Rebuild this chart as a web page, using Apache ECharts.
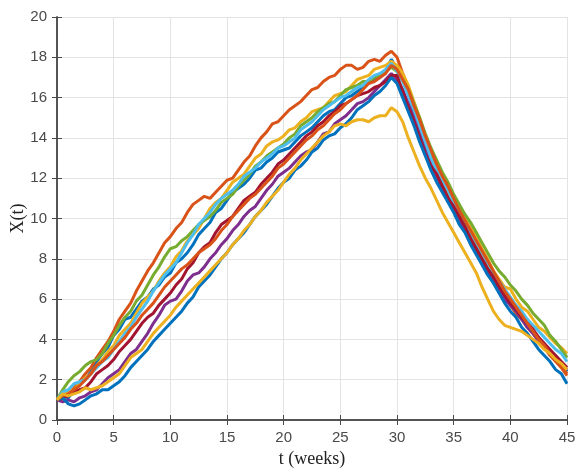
<!DOCTYPE html>
<html>
<head>
<meta charset="utf-8">
<script src="https://cdn.jsdelivr.net/npm/echarts@6/dist/echarts.min.js"></script>
<style>
html,body{margin:0;padding:0;background:#fff;}
#chart{width:576px;height:469px;}
</style>
</head>
<body>
<div id="chart"></div>
<script>
// time step between samples (weeks)
const step = 0.5;

const xTicks = [0, 5, 10, 15, 20, 25, 30, 35, 40, 45];
const yTicks = [0, 2, 4, 6, 8, 10, 12, 14, 16, 18, 20];

// sampled every 0.5 week, t = 0 .. 45
const blue1 = [1.0,1.2, 1.1,1.5, 1.8,2.0, 2.4,2.9, 3.3,3.6, 4.2,4.5, 5.0,5.1, 5.5,5.9, 6.1,6.5, 6.7,7.1, 7.3,7.8, 8.0,8.3, 8.7,9.2, 9.5,9.8, 10.3,10.5, 10.9,11.3, 11.5,11.7, 12.0,12.4, 12.5,12.8, 13.0,13.3, 13.4,13.5, 13.8,14.1, 14.3,14.5, 14.8,15.1, 15.3,15.4, 15.7,16.0, 16.1,16.3, 16.5,16.8, 16.9,17.0, 17.3,17.9, 17.4,16.9, 16.2,15.3, 14.6,13.7, 13.0,12.5, 11.8,11.1, 10.6,10.0, 9.5,9.1, 8.5,7.9, 7.5,7.0, 6.6,6.1, 5.8,5.3, 5.0,4.8, 4.4,4.0, 3.8,3.3, 3.0,2.8, 2.4];
const orange1 = [1.0,1.1, 1.3,1.6, 1.9,2.3, 2.6,3.1, 3.5,3.9, 4.4,5.0, 5.4,5.8, 6.4,6.9, 7.4,7.8, 8.3,8.8, 9.1,9.5, 9.8,10.3, 10.7,10.9, 11.1,11.0, 11.3,11.6, 11.9,12.0, 12.4,12.8, 13.1,13.6, 14.0,14.3, 14.7,14.8, 15.1,15.4, 15.6,15.8, 16.1,16.4, 16.5,16.8, 17.0,17.1, 17.4,17.6, 17.6,17.4, 17.5,17.8, 17.9,17.8, 18.1,18.3, 18.0,17.2, 16.5,15.6, 14.8,13.9, 13.1,12.5, 11.9,11.3, 10.7,10.2, 9.6,9.1, 8.6,8.0, 7.6,7.1, 6.6,6.1, 5.7,5.3, 5.0,4.6, 4.3,3.9, 3.6,3.2, 2.9,2.6, 2.2];
const yellow1 = [1.0,1.3, 1.4,1.5, 1.8,2.1, 2.3,2.7, 3.0,3.4, 3.7,4.2, 4.5,4.8, 5.3,5.8, 6.1,6.4, 6.9,7.3, 7.6,8.1, 8.4,8.9, 9.2,9.5, 10.0,10.5, 10.8,11.0, 11.4,11.8, 12.0,12.2, 12.6,13.0, 13.2,13.6, 13.8,13.9, 14.1,14.4, 14.5,14.8, 15.0,15.3, 15.4,15.5, 15.8,16.1, 16.2,16.3, 16.6,16.9, 17.0,17.1, 17.4,17.5, 17.6,17.8, 17.6,17.2, 16.6,15.8, 15.0,14.1, 13.4,12.8, 12.2,11.6, 11.1,10.6, 10.1,9.7, 9.1,8.5, 8.0,7.4, 7.0,6.6, 6.5,6.0, 5.6,5.4, 5.0,4.6, 4.4,4.1, 3.8,3.6, 3.3];
const purple = [1.0,0.9, 1.0,0.9, 1.1,1.2, 1.4,1.5, 1.8,2.1, 2.3,2.5, 2.9,3.3, 3.5,3.9, 4.3,4.8, 5.2,5.7, 5.9,6.0, 6.4,6.9, 7.2,7.3, 7.6,8.0, 8.3,8.7, 9.0,9.4, 9.7,10.1, 10.4,10.6, 11.0,11.4, 11.7,12.1, 12.3,12.5, 12.8,13.1, 13.3,13.4, 13.8,14.2, 14.3,14.7, 14.9,15.1, 15.4,15.7, 15.8,16.0, 16.3,16.6, 16.9,17.2, 16.9,16.4, 15.7,15.0, 14.2,13.4, 12.7,12.1, 11.5,11.0, 10.4,9.9, 9.4,8.8, 8.4,7.9, 7.4,7.0, 6.5,6.0, 5.7,5.4, 5.0,4.6, 4.3,3.9, 3.6,3.4, 3.0,2.8, 2.5];
const green = [1.0,1.5, 1.9,2.2, 2.4,2.7, 2.9,3.0, 3.3,3.8, 4.2,4.7, 5.1,5.4, 5.9,6.2, 6.7,7.2, 7.6,8.1, 8.5,8.6, 8.9,9.1, 9.4,9.7, 9.9,10.1, 10.4,10.8, 11.0,11.2, 11.6,11.9, 12.2,12.6, 12.8,13.1, 13.3,13.5, 13.7,14.0, 14.2,14.6, 14.8,15.0, 15.3,15.5, 15.7,15.8, 16.1,16.4, 16.5,16.6, 16.8,16.8, 17.0,17.1, 17.3,17.5, 17.3,16.9, 16.4,15.7, 15.0,14.2, 13.5,12.9, 12.3,11.8, 11.2,10.7, 10.2,9.8, 9.3,8.8, 8.3,7.8, 7.4,7.1, 6.7,6.4, 6.0,5.7, 5.3,5.0, 4.7,4.2, 3.9,3.5, 3.1];
const cyan = [1.0,1.4, 1.5,1.8, 1.9,2.0, 2.3,2.6, 2.9,3.1, 3.5,3.9, 4.3,4.6, 5.1,5.5, 5.9,6.4, 6.8,7.2, 7.5,7.8, 8.3,8.8, 9.2,9.7, 10.0,10.3, 10.7,11.0, 11.2,11.4, 11.7,12.1, 12.3,12.5, 12.8,13.0, 13.2,13.5, 13.6,13.8, 14.0,14.4, 14.6,14.8, 15.1,15.4, 15.6,15.8, 16.0,16.1, 16.3,16.5, 16.6,16.9, 17.1,17.2, 17.4,17.7, 17.3,16.8, 16.1,15.4, 14.6,13.8, 13.0,12.4, 11.9,11.4, 10.8,10.3, 9.8,9.3, 8.8,8.3, 7.8,7.3, 6.9,6.5, 6.1,5.7, 5.4,5.0, 4.7,4.4, 4.1,3.8, 3.5,3.3, 2.9];
const red = [1.0,1.1, 1.2,1.4, 1.5,1.6, 1.9,2.3, 2.5,2.7, 3.0,3.4, 3.7,4.0, 4.4,4.8, 5.1,5.3, 5.7,6.0, 6.3,6.7, 7.0,7.5, 7.8,8.3, 8.6,8.8, 9.3,9.7, 9.9,10.1, 10.5,10.9, 11.1,11.3, 11.7,12.0, 12.3,12.7, 12.9,13.2, 13.5,13.8, 14.1,14.3, 14.6,14.8, 15.1,15.3, 15.6,15.7, 15.9,16.1, 16.2,16.3, 16.5,16.6, 16.8,17.1, 17.1,16.3, 15.5,14.8, 14.0,13.2, 12.6,12.2, 11.6,11.0, 10.6,10.1, 9.6,9.0, 8.5,8.0, 7.5,7.1, 6.6,6.2, 5.8,5.5, 5.1,4.8, 4.5,4.1, 3.8,3.5, 3.2,2.9, 2.6];
const blue2 = [1.0,1.1, 0.8,0.7, 0.8,1.0, 1.2,1.3, 1.5,1.5, 1.7,1.9, 2.2,2.6, 2.9,3.2, 3.5,3.9, 4.2,4.5, 4.8,5.1, 5.4,5.8, 6.1,6.6, 6.9,7.2, 7.6,8.0, 8.3,8.7, 9.0,9.3, 9.7,10.1, 10.4,10.7, 11.1,11.5, 11.8,12.0, 12.4,12.6, 12.9,13.3, 13.5,13.9, 14.1,14.2, 14.5,14.7, 15.0,15.4, 15.6,15.8, 16.1,16.3, 16.6,17.0, 16.7,16.0, 15.3,14.6, 13.8,13.1, 12.4,11.8, 11.3,10.8, 10.3,9.7, 9.3,8.7, 8.2,7.7, 7.2,6.8, 6.3,5.8, 5.4,5.1, 4.6,4.3, 3.9,3.5, 3.2,2.9, 2.5,2.3, 1.8];
const orange2 = [1.0,1.2, 1.3,1.5, 1.7,2.0, 2.3,2.7, 2.9,3.2, 3.5,3.8, 4.1,4.5, 4.8,5.2, 5.5,5.8, 6.2,6.6, 6.9,7.2, 7.5,7.7, 8.0,8.3, 8.5,8.7, 9.0,9.4, 9.7,10.1, 10.4,10.7, 11.0,11.2, 11.5,11.8, 12.1,12.5, 12.7,13.0, 13.3,13.6, 13.9,14.1, 14.4,14.6, 14.9,15.2, 15.4,15.7, 15.9,16.1, 16.4,16.7, 16.8,17.0, 17.2,17.6, 17.4,16.9, 16.4,15.6, 14.9,14.1, 13.4,12.7, 12.1,11.6, 11.0,10.4, 9.9,9.4, 8.9,8.4, 7.9,7.4, 6.9,6.4, 6.0,5.6, 5.2,4.8, 4.4,4.0, 3.7,3.3, 3.0,2.7, 2.3];
const yellow2 = [1.0,1.3, 1.2,1.3, 1.4,1.6, 1.5,1.6, 1.7,1.9, 2.1,2.3, 2.7,3.1, 3.3,3.5, 3.9,4.3, 4.6,4.9, 5.2,5.6, 5.9,6.2, 6.5,6.8, 7.1,7.4, 7.7,8.0, 8.3,8.7, 9.0,9.4, 9.7,10.1, 10.4,10.8, 11.1,11.4, 11.8,12.2, 12.5,12.9, 13.2,13.5, 13.8,14.1, 14.3,14.6, 14.7,14.6, 14.8,14.9, 14.9,14.8, 15.0,15.1, 15.1,15.5, 15.3,14.8, 14.0,13.3, 12.6,12.0, 11.5,10.9, 10.3,9.8, 9.3,8.8, 8.3,7.8, 7.3,6.6, 6.0,5.4, 5.0,4.7, 4.6,4.5, 4.4,4.2, 4.0,3.8, 3.5,3.3, 3.0,2.8, 2.5];

const seriesList = [
  {name: 'blue1', data: blue1, color: '#0072BD'},
  {name: 'orange1', data: orange1, color: '#D95319'},
  {name: 'yellow1', data: yellow1, color: '#EDB120'},
  {name: 'purple', data: purple, color: '#7E2F8E'},
  {name: 'green', data: green, color: '#77AC30'},
  {name: 'cyan', data: cyan, color: '#4DBEEE'},
  {name: 'red', data: red, color: '#A2142F'},
  {name: 'blue2', data: blue2, color: '#0072BD'},
  {name: 'orange2', data: orange2, color: '#D95319'},
  {name: 'yellow2', data: yellow2, color: '#EDB120'}
];

const chart = echarts.init(document.getElementById('chart'), null, {renderer: 'canvas'});
const axisColor = '#4a4a4a';
const tickFont = {fontFamily: 'Liberation Sans, Arial, sans-serif', fontSize: 15, color: '#4a4a4a'};

const option = {
  animation: false,
  backgroundColor: '#ffffff',
  grid: {left: 57, right: 9, top: 17, bottom: 49, containLabel: false, outerBoundsMode: 'none'},
  xAxis: [
    {
      type: 'value', min: 0, max: 45, interval: 5, position: 'bottom',
      name: 't (weeks)', nameLocation: 'middle', nameGap: 30, nameMoveOverlap: false,
      nameTextStyle: {fontFamily: 'Liberation Serif, Times New Roman, serif', fontSize: 18, color: '#222'},
      axisLine: {show: true, lineStyle: {color: axisColor, width: 1.5}},
      axisTick: {show: true, inside: true, length: 5, lineStyle: {color: axisColor}},
      axisLabel: Object.assign({margin: 10, formatter: v => xTicks.includes(v) ? String(v) : ''}, tickFont),
      splitLine: {show: true, lineStyle: {color: '#e3e3e3', width: 1}}
    },
    {
      type: 'value', min: 0, max: 45, interval: 5, position: 'top',
      axisLine: {show: true, lineStyle: {color: axisColor, width: 1.5}},
      axisTick: {show: true, inside: true, length: 5, lineStyle: {color: axisColor}},
      axisLabel: {show: false}, splitLine: {show: false}
    }
  ],
  yAxis: [
    {
      type: 'value', min: 0, max: 20, interval: 2, position: 'left',
      name: 'X(t)', nameLocation: 'middle', nameGap: 30, nameMoveOverlap: false,
      nameTextStyle: {fontFamily: 'Liberation Serif, Times New Roman, serif', fontSize: 18, color: '#222'},
      axisLine: {show: true, lineStyle: {color: axisColor, width: 1.5}},
      axisTick: {show: true, inside: true, length: 5, lineStyle: {color: axisColor}},
      axisLabel: Object.assign({margin: 10, formatter: v => yTicks.includes(v) ? String(v) : ''}, tickFont),
      splitLine: {show: true, lineStyle: {color: '#e3e3e3', width: 1}}
    },
    {
      type: 'value', min: 0, max: 20, interval: 2, position: 'right',
      axisLine: {show: true, lineStyle: {color: axisColor, width: 1.5}},
      axisTick: {show: true, inside: true, length: 5, lineStyle: {color: axisColor}},
      axisLabel: {show: false}, splitLine: {show: false}
    }
  ],
  series: seriesList.map(s => ({
    name: s.name,
    type: 'line',
    xAxisIndex: 0, yAxisIndex: 0,
    data: s.data.map((v, i) => [i * step, v]),
    showSymbol: false,
    symbol: 'none',
    smooth: false,
    lineStyle: {color: s.color, width: 3},
    itemStyle: {color: s.color},
    z: 2
  }))
};
chart.setOption(option);
</script>
</body>
</html>
